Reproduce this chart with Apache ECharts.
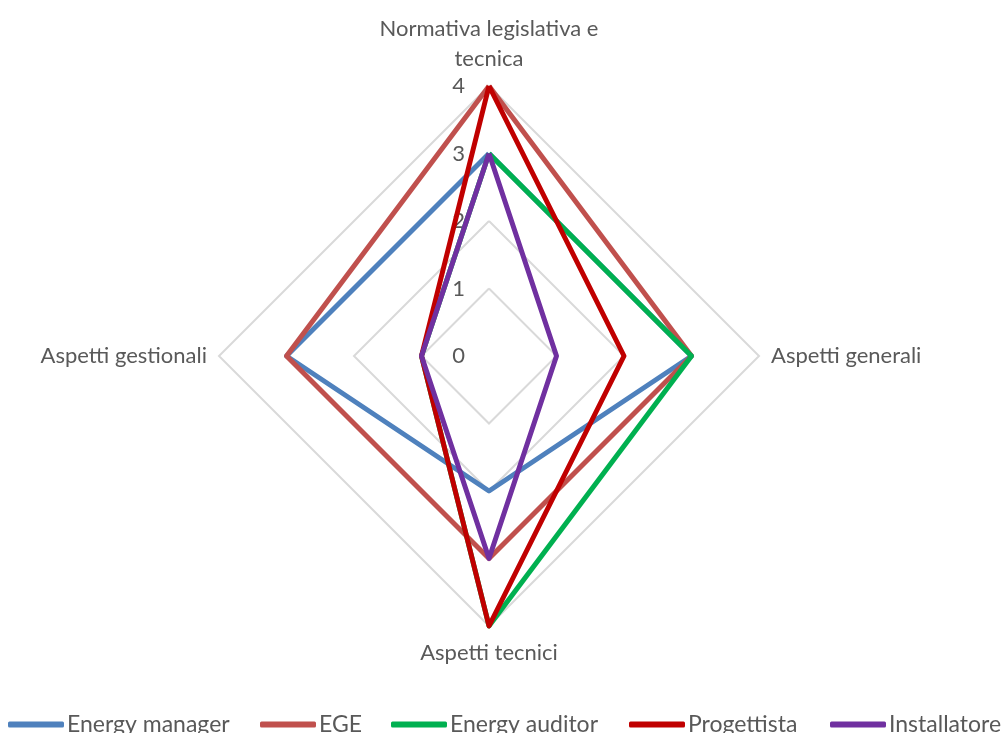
<!DOCTYPE html>
<html><head><meta charset="utf-8">
<script src="https://cdn.jsdelivr.net/npm/echarts@6/dist/echarts.min.js"></script>
<style>html,body{margin:0;padding:0;background:#fff}#c{width:1003px;height:733px}</style>
</head><body><div id="c"></div>
<script>
var indicators = ['Normativa legislativa e\ntecnica', 'Aspetti gestionali', 'Aspetti tecnici', 'Aspetti generali'];
var seriesNames = ['Energy manager', 'EGE', 'Energy auditor', 'Progettista', 'Installatore'];
var colors = ['#4F81BD', '#C0504D', '#00B050', '#C00000', '#7030A0'];
// values in indicator order: top, left, bottom, right
var energyManager = [3, 3, 2, 3];
var ege = [4, 3, 3, 3];
var energyAuditor = [3, 1, 4, 3];
var progettista = [4, 1, 4, 2];
var installatore = [3, 1, 3, 1];
var allValues = [energyManager, ege, energyAuditor, progettista, installatore];
var legendLeft = [8, 260, 391, 629, 830];

var font = 'Lato';
var chart = echarts.init(document.getElementById('c'));
chart.setOption({
  animation: false,
  legend: seriesNames.map(function (n, i) {
    return {
      data: [n],
      left: legendLeft[i],
      top: 713,
      itemWidth: 56,
      itemHeight: 6,
      icon: 'roundRect',
      padding: 0,
      textStyle: {color: '#595959', fontSize: 23, fontFamily: font, padding: [0, 0, 0, -2]}
    };
  }),
  radar: {
    center: [489, 356],
    radius: 270,
    startAngle: 90,
    shape: 'polygon',
    splitNumber: 4,
    nameGap: 12,
    axisName: {color: '#595959', fontSize: 22, fontFamily: font, lineHeight: 30},
    indicator: indicators.map(function (n, i) {
      var o = {name: n, min: 0, max: 4};
      if (i === 0) o.axisLabel = {show: true};
      return o;
    }),
    axisLine: {show: false},
    axisTick: {show: false},
    axisLabel: {show: false, color: '#595959', fontSize: 22, fontFamily: font, margin: 24},
    splitLine: {lineStyle: {color: '#D9D9D9', width: 2}},
    splitArea: {show: false}
  },
  series: [{
    type: 'radar',
    symbol: 'none',
    data: allValues.map(function (v, i) {
      return {name: seriesNames[i], value: v, lineStyle: {color: colors[i], width: 5}, itemStyle: {color: colors[i]}};
    })
  }]
});
</script></body></html>
